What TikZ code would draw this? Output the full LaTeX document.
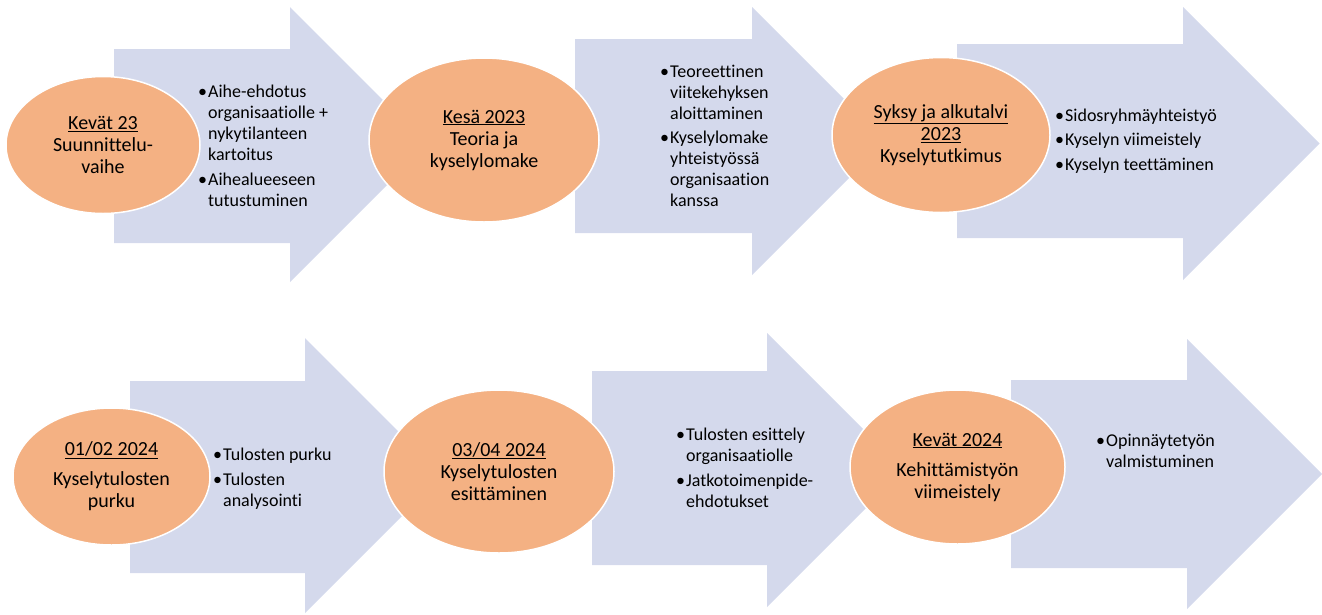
\documentclass[tikz,border=0pt]{standalone}
\usepackage{fontspec}
\setmainfont{Carlito}[Ligatures=CommonOff]
\usetikzlibrary{shapes.geometric}
\definecolor{flowlav}{HTML}{D4D9EC}
\definecolor{phaseorange}{HTML}{F4B183}

\begin{document}
\begin{tikzpicture}[x=1pt,y=-1pt,
 flow/.style={fill=flowlav},
 phase/.style={ellipse,fill=phaseorange,draw=white,line width=1.5pt,inner sep=0pt},
 phasetext/.style={align=center,inner sep=0pt,font=\fontsize{20}{22}\selectfont},
 items/.style={anchor=base west,inner sep=0pt,font=\fontsize{18}{21}\selectfont}]
\useasboundingbox (0,0) rectangle (1322,614);
% arrows, top row
\fill[flow] (114,49)--(290,49)--(290,7)--(427.5,144.5)--(290,282)--(290,243)--(114,243)--cycle;
\fill[flow] (575,39)--(752,39)--(752,7)--(886,141)--(752,275)--(752,233)--(575,233)--cycle;
\fill[flow] (957,44)--(1183,44)--(1183,7)--(1319.5,143.5)--(1183,280)--(1183,238)--(957,238)--cycle;
% arrows, bottom row
\fill[flow] (130,381)--(305,381)--(305,338)--(442.5,475.5)--(305,613)--(305,573)--(130,573)--cycle;
\fill[flow] (592,371)--(767,371)--(767,333)--(904,470)--(767,607)--(767,565)--(592,565)--cycle;
\fill[flow] (1011,380)--(1187,380)--(1187,339)--(1322,474)--(1187,609)--(1187,568)--(1011,568)--cycle;
% phases
\node[phase,minimum width=194,minimum height=137] (p1) at (103,145) {};
\node[phase,minimum width=230,minimum height=164] (p2) at (484,140) {};
\node[phase,minimum width=218,minimum height=155] (p3) at (941,135) {};
\node[phase,minimum width=197,minimum height=137] (p4) at (111.5,476.5) {};
\node[phase,minimum width=230,minimum height=163] (p5) at (499,471.5) {};
\node[phase,minimum width=215,minimum height=154] (p6) at (957.5,467) {};
\node[phasetext] (t1) at (p1) {\underline{Kevät 23}\\Suunnittelu-\\vaihe};
\node[phasetext] (t2) at (p2) {\underline{Kesä 2023}\\Teoria ja\\kyselylomake};
\node[phasetext] (t3) at (p3) {\underline{Syksy ja alkutalvi}\\\underline{2023}\\Kyselytutkimus};
\node[phasetext] (t4) at (p4) {\underline{01/02 2024}\\[8pt]Kyselytulosten\\purku};
\node[phasetext] (t5) at (p5) {\underline{03/04 2024}\\Kyselytulosten\\esittäminen};
\node[phasetext] (t6) at (p6) {\underline{Kevät 2024}\\[8pt]Kehittämistyön\\viimeistely};
% bullet texts
\node[items] (b1) at (198,97) {\begin{tabular}[t]{@{}l@{\hspace{1pt}}l@{}}
 \textbullet & Aihe-ehdotus\\ & organisaatiolle +\\ & nykytilanteen\\ & kartoitus\\[4pt]
 \textbullet & Aihealueeseen\\ & tutustuminen\end{tabular}};
\node[items] (b2) at (660,77) {\begin{tabular}[t]{@{}l@{\hspace{1pt}}l@{}}
 \textbullet & Teoreettinen\\ & viitekehyksen\\ & aloittaminen\\[3pt]
 \textbullet & Kyselylomake\\ & yhteistyössä\\ & organisaation\\ & kanssa\end{tabular}};
\node[items] (b3) at (1055,121) {\begin{tabular}[t]{@{}l@{\hspace{1pt}}l@{}}
 \textbullet & Sidosryhmäyhteistyö\\[3.5pt]
 \textbullet & Kyselyn viimeistely\\[3.5pt]
 \textbullet & Kyselyn teettäminen\end{tabular}};
\node[items] (b4) at (213,460) {\begin{tabular}[t]{@{}l@{\hspace{1pt}}l@{}}
 \textbullet & Tulosten purku\\[4pt]
 \textbullet & Tulosten\\ & analysointi\end{tabular}};
\node[items] (b5) at (676,440) {\begin{tabular}[t]{@{}l@{\hspace{1pt}}l@{}}
 \textbullet & Tulosten esittely\\ & organisaatiolle\\[4pt]
 \textbullet & Jatkotoimenpide-\\ & ehdotukset\end{tabular}};
\node[items] (b6) at (1096,446) {\begin{tabular}[t]{@{}l@{\hspace{1pt}}l@{}}
 \textbullet & Opinnäytetyön\\ & valmistuminen\end{tabular}};
\end{tikzpicture}
\end{document}
